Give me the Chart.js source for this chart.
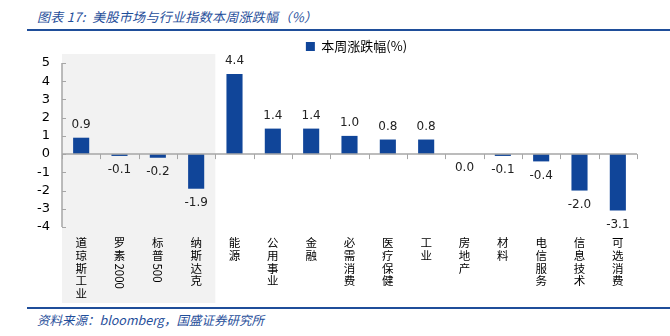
<!DOCTYPE html>
<html>
<head>
<meta charset="utf-8">
<script src="https://cdn.jsdelivr.net/npm/chart.js@4.4.0/dist/chart.umd.min.js"></script>
<style>
  body { margin: 0; width: 670px; height: 336px; background: #fff; position: relative; overflow: hidden; }
  #title { position: absolute; left: 37px; top: 7px; font: italic 13px "Noto Sans CJK SC"; color: #1F4E9A; white-space: nowrap; letter-spacing: 0.3px; }
  .rule { position: absolute; left: 27px; width: 643px; height: 2px; background: #1F4E9A; }
  #src { position: absolute; left: 37px; top: 310px; font: italic 12.5px "Noto Sans CJK SC"; color: #1F4E9A; white-space: nowrap; }
  #wrap { position: absolute; left: 0; top: 32px; width: 670px; height: 274px; }
</style>
</head>
<body>
<div id="title">图表 17:&nbsp; 美股市场与行业指数本周涨跌幅（%）</div>
<div class="rule" style="top:29px"></div>
<div id="wrap"><canvas id="myChart"></canvas></div>
<div class="rule" style="top:307px"></div>
<div id="src">资料来源：bloomberg，国盛证券研究所</div>
<script>
var rotulos = ['道琼斯工业', '罗素2000', '标普500', '纳斯达克', '能源', '公用事业', '金融', '必需消费', '医疗保健', '工业', '房地产', '材料', '电信服务', '信息技术', '可选消费'];
var valores = [0.9, -0.1, -0.2, -1.9, 4.4, 1.4, 1.4, 1.0, 0.8, 0.8, 0.0, -0.1, -0.4, -2.0, -3.1];
var serie = '本周涨跌幅(%)';
var yTicks = [5, 4, 3, 2, 1, 0, -1, -2, -3, -4];
var nIndices = 4; // first four are the broad indices (grey band)

var azul = '#104599';
var cinza = '#A6A6A6';
var ctx = document.getElementById('myChart').getContext('2d');

// grey band behind the index bars
const fundo = {
    id: 'fundo',
    afterLayout(chart) {
        // nudge the legend to the right, like the original
        chart.legend.left += 38;
        chart.legend.right += 38;
    },
    beforeDraw(chart) {
        const x = chart.scales.x, y = chart.scales.y, c = chart.ctx;
        const half = (x.getPixelForValue(1) - x.getPixelForValue(0)) / 2;
        const l = x.getPixelForValue(0) - half;
        const r = x.getPixelForValue(nIndices - 1) + half;
        const t = y.getPixelForValue(5) - 9;
        const b = chart.chartArea.bottom + 76;
        c.save();
        c.fillStyle = '#F2F2F2';
        c.fillRect(l, t, r - l, b - t);
        c.restore();
    }
};

// axis lines, ticks, value labels and vertical category labels
const extras = {
    id: 'extras',
    afterDatasetsDraw(chart) {
        const x = chart.scales.x, y = chart.scales.y, c = chart.ctx, a = chart.chartArea;
        const z = y.getPixelForValue(0);
        const half = (x.getPixelForValue(1) - x.getPixelForValue(0)) / 2;
        c.save();
        c.strokeStyle = cinza;
        c.lineWidth = 1.5;
        c.beginPath();
        c.moveTo(a.left, y.getPixelForValue(5));
        c.lineTo(a.left, y.getPixelForValue(-4));
        c.moveTo(a.left, z);
        c.lineTo(x.getPixelForValue(rotulos.length - 1) + half, z);
        c.stroke();
        c.lineWidth = 1;
        c.beginPath();
        yTicks.forEach(v => {
            const py = Math.round(y.getPixelForValue(v)) + 0.5;
            c.moveTo(a.left, py);
            c.lineTo(a.left + 4, py);
        });
        for (let i = 0; i <= rotulos.length; i++) {
            const px = Math.round(x.getPixelForValue(0) - half + i * 2 * half) + 0.5;
            c.moveTo(px, z);
            c.lineTo(px, z + 5);
        }
        c.stroke();

        // value labels
        c.fillStyle = '#222';
        c.font = '12px "DejaVu Sans"';
        c.textAlign = 'center';
        c.textBaseline = 'middle';
        chart.getDatasetMeta(0).data.forEach((bar, i) => {
            const v = valores[i];
            const py = v > 0 ? bar.y - 13 : bar.y + 14;
            c.fillText(v.toFixed(1), bar.x, py);
        });

        // vertical category labels
        c.fillStyle = '#000';
        c.font = '11.5px "Noto Sans CJK SC"';
        rotulos.forEach((txt, i) => {
            const px = x.getPixelForValue(i);
            let py = a.bottom + 10;
            const runs = txt.match(/[\x00-\x7f]+|[^\x00-\x7f]/g);
            runs.forEach(run => {
                if (/^[\x00-\x7f]+$/.test(run)) {
                    const w = c.measureText(run).width;
                    c.save();
                    c.translate(px, py + 1);
                    c.rotate(Math.PI / 2);
                    c.textAlign = 'left';
                    c.textBaseline = 'middle';
                    c.fillText(run, 0, 0);
                    c.restore();
                    py += w + 3;
                } else {
                    c.textAlign = 'center';
                    c.textBaseline = 'top';
                    c.fillText(run, px, py);
                    py += 12.7;
                }
            });
        });
        c.restore();
    }
};

var myChart = new Chart(ctx, {
    type: 'bar',
    data: {
        labels: rotulos,
        datasets: [{
            label: serie,
            data: valores,
            backgroundColor: azul,
            barPercentage: 0.42,
            categoryPercentage: 1.0
        }]
    },
    options: {
        responsive: true,
        maintainAspectRatio: false,
        animation: false,
        layout: { padding: { top: 0, right: 33, bottom: 79, left: 0 } },
        plugins: {
            legend: {
                position: 'top',
                labels: {
                    font: { size: 13, family: '"Noto Sans CJK SC"' },
                    color: '#000',
                    boxWidth: 9,
                    boxHeight: 9,
                    padding: 8
                }
            },
            tooltip: { enabled: false }
        },
        scales: {
            x: { display: false },
            y: {
                min: -4,
                max: 5,
                afterFit(scale) { scale.width = 62; },
                afterBuildTicks(scale) { scale.ticks = yTicks.map(v => ({ value: v })); },
                grid: { display: false, drawTicks: false },
                border: { display: false },
                ticks: {
                    autoSkip: false,
                    padding: 12,
                    color: '#000',
                    font: { size: 13, family: '"DejaVu Sans"' }
                }
            }
        }
    },
    plugins: [fundo, extras]
});
</script>
</body>
</html>
